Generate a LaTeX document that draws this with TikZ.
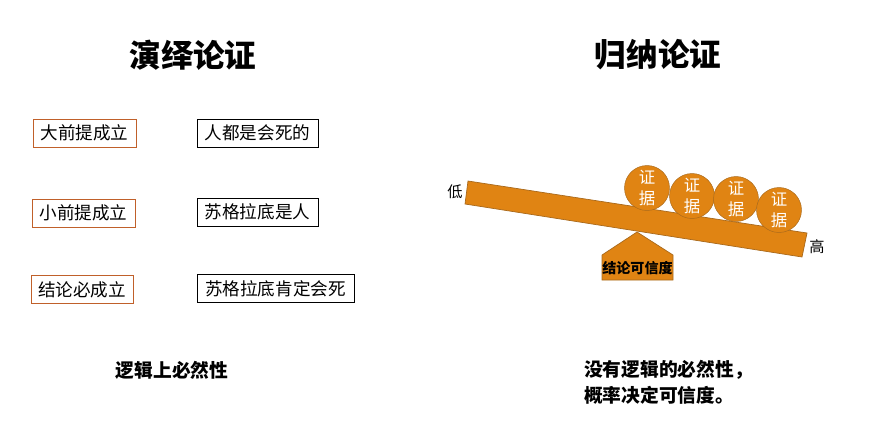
\documentclass[tikz,border=0pt]{standalone}
\usepackage{fontspec}
\usepackage{xcolor}
\usepackage{tikz}
\usetikzlibrary{positioning}
\newfontfamily\cjk{Noto Sans CJK SC}
\definecolor{beamorange}{HTML}{E08413}
\definecolor{beamedge}{HTML}{A8691C}
\definecolor{premiseedge}{HTML}{C0602A}

\tikzset{
  premise/.style={draw=premiseedge,line width=0.7pt,minimum height=28*0.03cm,inner sep=0pt,font=\cjk\fontsize{15}{17}\selectfont},
  fact/.style={draw=black,line width=0.7pt,minimum height=28*0.03cm,inner sep=0pt,font=\cjk\fontsize{15}{17}\selectfont},
  title/.style={font=\cjk\bfseries\fontsize{27}{30}\selectfont},
  evidence/.style={circle,draw=beamedge,fill=beamorange,minimum size=45*0.03cm,inner sep=0pt,text=white,align=center,font=\cjk\fontsize{14}{18}\selectfont},
  summary/.style={font=\cjk\bfseries\fontsize{16}{22}\selectfont,align=left}
}

\begin{document}
\begin{tikzpicture}[x=0.03cm,y=-0.03cm]
\useasboundingbox (0,0) rectangle (879,437);

% left: deduction
\node[title] (dtitle) at (193,55) {演绎论证};
\node[premise,minimum width=103*0.03cm] (major) at (84.5,133) {大前提成立};
\node[premise,minimum width=103*0.03cm] (minor) at (83.5,213) {小前提成立};
\node[premise,minimum width=102*0.03cm] (concl) at (82,289.5) {结论必成立};
\node[fact,minimum width=121*0.03cm] (allmen) at (257.5,133) {人都是会死的};
\node[fact,minimum width=121*0.03cm] (socman) at (257.5,212) {苏格拉底是人};
\node[fact,minimum width=157*0.03cm] (socdie) at (275.5,288.5) {苏格拉底肯定会死};
\node[summary] (dsum) at (172,370) {逻辑上必然性};

% right: induction
\node[title] (ititle) at (658,55) {归纳论证};

% pivot
\draw[beamedge,fill=beamorange,line width=0.6pt] (602,280) -- (602,255) -- (637,232) -- (673,255) -- (673,280) -- cycle;
\node[font=\cjk\bfseries\fontsize{12}{12}\selectfont] (trust) at (637.5,268) {结论可信度};

% beam
\coordinate (tl) at (468,181);
\coordinate (tr) at (807,233);
\coordinate (br) at (802,257);
\coordinate (bl) at (465,204);
\draw[beamedge,fill=beamorange,line width=0.6pt] (tl) -- (tr) -- (br) -- (bl) -- cycle;
\node[font=\cjk\fontsize{13}{13}\selectfont] (low) at (455,192) {低};
\node[font=\cjk\fontsize{13}{13}\selectfont] (high) at (817,247) {高};

% evidence
\foreach \n/\x/\y in {a/647/188,b/692/196,c/736/199,d/779/210}
  {\node[evidence] (ev\n) at (\x,\y) {证\\据};}

\node[summary,anchor=north west] (isum) at (580,356) {没有逻辑的必然性，\\概率决定可信度。};
\end{tikzpicture}
\end{document}
